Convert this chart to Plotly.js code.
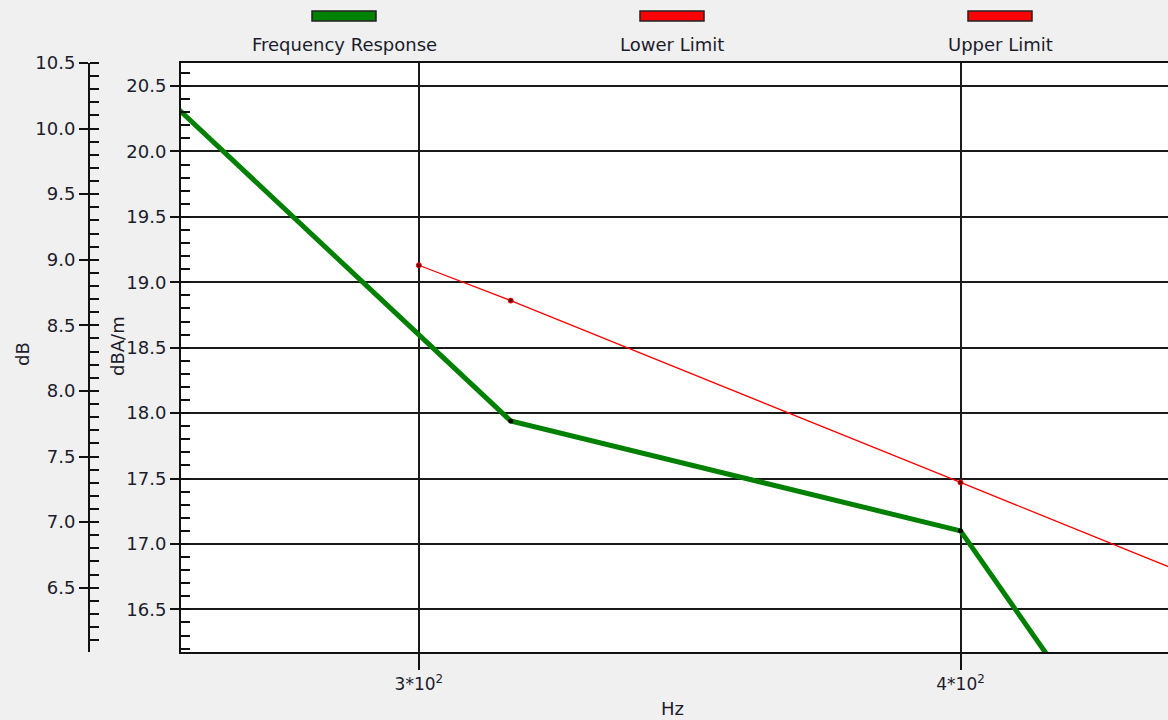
<!DOCTYPE html>
<html>
<head>
<meta charset="utf-8">
<script src="https://cdn.plot.ly/plotly-3.0.1.min.js"></script>
<style>html,body{margin:0;padding:0;background:#f0f0f0;}#chart{width:1168px;height:720px;}</style>
</head>
<body>
<div id="chart"></div>
<script>
// Data (1/3-octave band frequencies in Hz, levels in dBA/m)
const responseFreqs = [250, 315, 400, 500];
const responseLevels = [21.06, 17.94, 17.10, 12.5];
const lowerFreqs = [300, 315, 400, 500];
const lowerLevels = [19.13, 18.86, 17.47, 16.17];
const upperFreqs = [];
const upperLevels = [];
const seriesNames = ['Frequency Response', 'Lower Limit', 'Upper Limit'];
const seriesColors = ['#008000', '#ff0000', '#ff0000'];
const xTickVals = [300, 400];
const xTickText = ['3*10<sup>2</sup>', '4*10<sup>2</sup>'];

const W = 1168, H = 720, T = 63, B = 68;
const plotH = H - T - B;
const py = p => (H - B - p) / plotH;   // pixel y -> paper y
const px = p => p / W;                  // pixel x -> paper x
const FONT = 'DejaVu Sans';
const TXT = '#1c1c2c';

const traces = [
  {x: responseFreqs, y: responseLevels, type: 'scatter', mode: 'lines+markers', name: seriesNames[0],
   line: {color: seriesColors[0], width: 5}, marker: {color: '#000', size: 5}},
  {x: lowerFreqs, y: lowerLevels, type: 'scatter', mode: 'lines+markers', name: seriesNames[1],
   line: {color: seriesColors[1], width: 1.3}, marker: {color: '#600', size: 5, line: {color: '#ff0000', width: 1}}},
  {x: upperFreqs, y: upperLevels, type: 'scatter', mode: 'lines', name: seriesNames[2],
   line: {color: seriesColors[2], width: 1.3}},
  // dummy trace to activate the dB axis
  {x: [300], y: [8], type: 'scatter', mode: 'markers', yaxis: 'y2', marker: {opacity: 0}, hoverinfo: 'skip', showlegend: false}
];

// legend drawn as swatches above labels
const legendCenters = [344, 672, 1000];
const shapes = [];
const annotations = [];
seriesNames.forEach((n, i) => {
  const c = legendCenters[i];
  shapes.push({type: 'rect', xref: 'paper', yref: 'paper',
    x0: px(c - 32), x1: px(c + 32), y0: py(21), y1: py(11),
    fillcolor: seriesColors[i], line: {color: '#222', width: 1.5}});
  annotations.push({text: n, xref: 'paper', yref: 'paper', x: px(c), y: py(45),
    xanchor: 'center', yanchor: 'middle', showarrow: false, font: {family: FONT, size: 18, color: TXT}});
});
annotations.push({text: 'dB', xref: 'paper', yref: 'paper', x: px(22), y: py(354), textangle: -90,
  xanchor: 'center', yanchor: 'middle', showarrow: false, font: {family: FONT, size: 18, color: TXT}});
annotations.push({text: 'dBA/m', xref: 'paper', yref: 'paper', x: px(117), y: py(346), textangle: -90,
  xanchor: 'center', yanchor: 'middle', showarrow: false, font: {family: FONT, size: 18, color: TXT}});
annotations.push({text: 'Hz', xref: 'paper', yref: 'paper', x: px(672), y: py(708),
  xanchor: 'center', yanchor: 'middle', showarrow: false, font: {family: FONT, size: 18, color: TXT}});

const layout = {
  width: W, height: H,
  paper_bgcolor: '#f0f0f0', plot_bgcolor: '#ffffff',
  margin: {l: 0, r: 0, t: T, b: B, pad: 0},
  showlegend: false,
  font: {family: FONT, size: 18, color: TXT},
  xaxis: {
    type: 'log', domain: [181 / W, 1],
    range: [Math.log10(264.4), Math.log10(446.6)],
    tickmode: 'array', tickvals: xTickVals, ticktext: xTickText,
    ticks: 'outside', ticklen: 16, tickwidth: 2, tickcolor: '#111',
    showgrid: true, gridcolor: '#1a1a1a', gridwidth: 2,
    showline: true, linecolor: '#111', linewidth: 2, mirror: true,
    zeroline: false, automargin: false, fixedrange: true,
    tickfont: {family: FONT, size: 17, color: TXT}
  },
  yaxis: {
    range: [16.174, 20.676], dtick: 0.5, tick0: 0, tickformat: '.1f',
    ticks: 'outside', ticklen: 9, tickwidth: 2, tickcolor: '#111',
    minor: {dtick: 0.1, ticks: 'inside', ticklen: 9, tickwidth: 2, tickcolor: '#111', showgrid: false},
    showgrid: true, gridcolor: '#1a1a1a', gridwidth: 2,
    showline: true, linecolor: '#111', linewidth: 2, mirror: false,
    zeroline: false, automargin: false,
    tickfont: {family: FONT, size: 18, color: TXT}
  },
  yaxis2: {
    overlaying: 'y', anchor: 'free', position: 89 / W, side: 'left',
    range: [6.01, 10.5], dtick: 0.5, tick0: 0, tickformat: '.1f',
    ticks: 'outside', ticklen: 9, tickwidth: 2, tickcolor: '#111',
    minor: {dtick: 0.1, ticks: 'inside', ticklen: 9, tickwidth: 2, tickcolor: '#111', showgrid: false},
    showgrid: false, showline: true, linecolor: '#111', linewidth: 2,
    zeroline: false, automargin: false,
    tickfont: {family: FONT, size: 18, color: TXT}
  },
  shapes: shapes,
  annotations: annotations
};

Plotly.newPlot('chart', traces, layout, {staticPlot: true, displayModeBar: false});
</script>
</body>
</html>
